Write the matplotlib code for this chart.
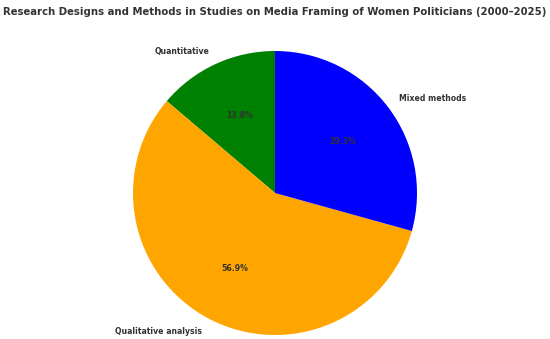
import matplotlib
matplotlib.use("Agg")
import matplotlib.pyplot as plt

categories = ["Quantitative", "Qualitative analysis", "Mixed methods"]
counts = [8, 33, 17]
colors = ["green", "orange", "blue"]

fig = plt.figure(figsize=(5.5, 3.39), dpi=100)
ax = fig.add_axes([0, 0, 1, 1])

wedges, texts, autotexts = ax.pie(counts, labels=categories, colors=colors,
                                  autopct='%1.1f%%', startangle=90,
                                  textprops=dict(fontsize=5.6, fontweight='bold', color='#333333'))

# place the pie like the reference (radius ~142 px, centre at 275,193)
r = 142.0
ax.set_aspect('auto')
ax.set_xlim(-275 / r, 275 / r)
ax.set_ylim(-146 / r, 193 / r)
ax.axis('off')

fig.text(0.5, 1 - 12 / 339, "Research Designs and Methods in Studies on Media Framing of Women Politicians (2000\u20132025)",
         ha='center', va='center', fontsize=7.25, fontweight='bold', color='#333333')

fig.savefig("out.png", dpi=100)
